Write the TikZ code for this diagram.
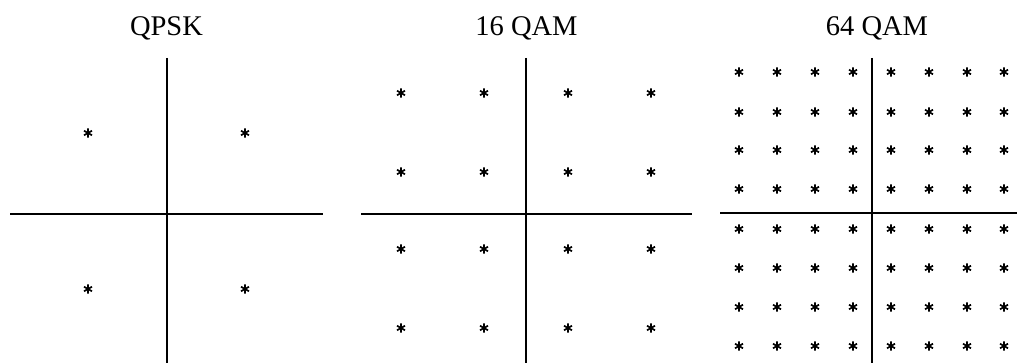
\documentclass[tikz,border=0pt]{standalone}
\usepackage{fontspec}
\setmainfont{Liberation Serif}
\begin{document}
\begin{tikzpicture}[x=1pt,y=-1pt,
  axis/.style={line width=1.9pt,black},
  title/.style={font=\fontsize{28.5}{30}\selectfont,inner sep=0pt,anchor=base},
  astk/.pic={\draw[line width=1.7pt,line cap=butt]
     (0,-4.6) -- (0,4.6) (-4,-2.3) -- (4,2.3) (-4,2.3) -- (4,-2.3);}]
\useasboundingbox (0,0) rectangle (1017,363);
% QPSK
\node[title] (t1) at (166.5,36) {QPSK};
\coordinate (a1t) at (167,58); \coordinate (a1b) at (167,363);
\coordinate (a1l) at (10,214); \coordinate (a1r) at (323,214);
\draw[axis] (a1t) -- (a1b);
\draw[axis] (a1l) -- (a1r);
\foreach \x in {88,245}
  \foreach \y in {133,289}
    \pic at (\x,\y) {astk};
% 16 QAM
\node[title] (t2) at (526.5,36) {16 QAM};
\coordinate (a2t) at (526,58); \coordinate (a2b) at (526,363);
\coordinate (a2l) at (361,214); \coordinate (a2r) at (692,214);
\draw[axis] (a2t) -- (a2b);
\draw[axis] (a2l) -- (a2r);
\foreach \x in {401,484,568,651}
  \foreach \y in {93,172,249,328}
    \pic at (\x,\y) {astk};
% 64 QAM
\node[title] (t3) at (877,36) {64 QAM};
\coordinate (a3t) at (872,58); \coordinate (a3b) at (872,363);
\coordinate (a3l) at (720,213); \coordinate (a3r) at (1017,213);
\draw[axis] (a3t) -- (a3b);
\draw[axis] (a3l) -- (a3r);
\foreach \x in {739,777,815,853,891,929,967,1004}
  \foreach \y in {72,112,150,189,229,268,307,346}
    \pic at (\x,\y) {astk};
\end{tikzpicture}
\end{document}
